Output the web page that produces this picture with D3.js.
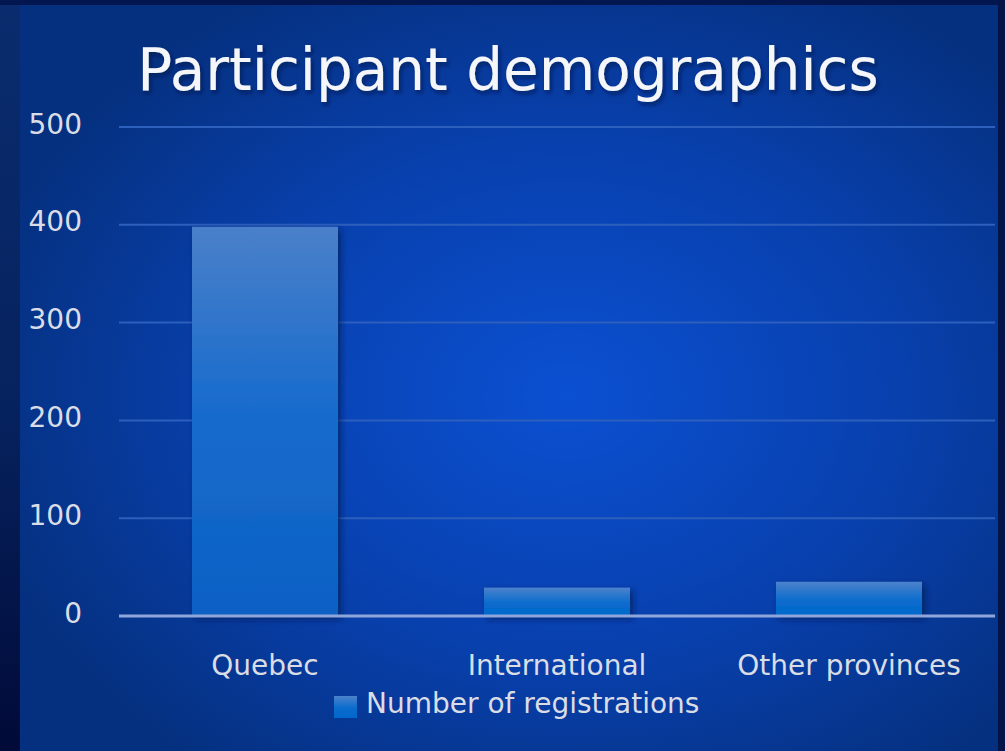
<!DOCTYPE html>
<html>
<head>
<meta charset="utf-8">
<script src="https://cdn.jsdelivr.net/npm/d3@7"></script>
<style>
  html, body { margin: 0; padding: 0; background: #021040; overflow: hidden; }
  svg { display: block; font-family: "DejaVu Sans", Verdana, sans-serif; }
</style>
</head>
<body>
<div id="chart"></div>
<script>
const categories = ['Quebec', 'International', 'Other provinces'];
const registrations = [398, 29, 35];
const yTicks = [0, 100, 200, 300, 400, 500];
const seriesName = 'Number of registrations';
const title = 'Participant demographics';

function barChart() {
    let width = 1005,
        height = 751,
        margin = { top: 127, left: 119, right: 10, bottom: 135 };

    function chart(selector) {
        let svg = d3.select(selector)
            .append('svg')
            .attr('width', width)
            .attr('height', height);

        let defs = svg.append('defs');

        // outer backdrop (left strip glows at top, dark at bottom)
        let outer = defs.append('linearGradient').attr('id', 'outer')
            .attr('x1', 0).attr('x2', 0).attr('y1', 0).attr('y2', 1);
        outer.append('stop').attr('offset', '0%').attr('stop-color', '#0a2c6e');
        outer.append('stop').attr('offset', '55%').attr('stop-color', '#06225e');
        outer.append('stop').attr('offset', '100%').attr('stop-color', '#010a38');

        // panel glow
        let panel = defs.append('radialGradient').attr('id', 'panel')
            .attr('cx', '56%').attr('cy', '52%').attr('r', '62%');
        panel.append('stop').attr('offset', '0%').attr('stop-color', '#0b50d2');
        panel.append('stop').attr('offset', '55%').attr('stop-color', '#0840ad');
        panel.append('stop').attr('offset', '100%').attr('stop-color', '#05307f');

        // bar fill
        let barGrad = defs.append('linearGradient').attr('id', 'bar')
            .attr('x1', 0).attr('x2', 0).attr('y1', 0).attr('y2', 1);
        barGrad.append('stop').attr('offset', '0%').attr('stop-color', '#4a80c9');
        barGrad.append('stop').attr('offset', '45%').attr('stop-color', '#1a6ccd');
        barGrad.append('stop').attr('offset', '100%').attr('stop-color', '#0a60c4');

        let smallGrad = defs.append('linearGradient').attr('id', 'barSmall')
            .attr('x1', 0).attr('x2', 0).attr('y1', 0).attr('y2', 1);
        smallGrad.append('stop').attr('offset', '0%').attr('stop-color', '#4c82cc');
        smallGrad.append('stop').attr('offset', '55%').attr('stop-color', '#0a6ccd');
        smallGrad.append('stop').attr('offset', '100%').attr('stop-color', '#0068cc');

        let shadow = defs.append('filter').attr('id', 'shadow')
            .attr('x', '-20%').attr('y', '-20%').attr('width', '150%').attr('height', '150%');
        shadow.append('feDropShadow').attr('dx', 3).attr('dy', 3)
            .attr('stdDeviation', 3).attr('flood-color', '#001a55').attr('flood-opacity', 0.7);

        let textShadow = defs.append('filter').attr('id', 'tshadow')
            .attr('x', '-5%').attr('y', '-20%').attr('width', '110%').attr('height', '150%');
        textShadow.append('feDropShadow').attr('dx', 2).attr('dy', 3)
            .attr('stdDeviation', 2).attr('flood-color', '#001040').attr('flood-opacity', 0.6);

        svg.append('rect').attr('width', width).attr('height', height).attr('fill', 'url(#outer)');
        svg.append('rect').attr('width', width).attr('height', 5).attr('fill', '#03164f');
        svg.append('rect')
            .attr('x', 998).attr('width', 7).attr('height', height).attr('fill', '#031548');
        svg.append('rect')
            .attr('x', 20).attr('y', 5)
            .attr('width', 978).attr('height', height)
            .attr('fill', 'url(#panel)');

        // scales
        let x = d3.scaleBand()
            .domain(categories)
            .range([margin.left, width - margin.right])
            .paddingInner(0.5)
            .paddingOuter(0.25);

        let y = d3.scaleLinear()
            .domain([0, 500])
            .range([height - margin.bottom, margin.top]);

        // gridlines
        svg.append('g')
            .selectAll('line')
            .data(yTicks.slice(1))
            .enter().append('line')
            .attr('x1', margin.left)
            .attr('x2', 995)
            .attr('y1', d => y(d))
            .attr('y2', d => y(d))
            .attr('stroke', '#2d5fbd')
            .attr('stroke-width', 2);

        // y tick labels
        svg.append('g')
            .selectAll('text')
            .data(yTicks)
            .enter().append('text')
            .attr('x', 82)
            .attr('y', d => y(d) + 6.5)
            .attr('text-anchor', 'end')
            .attr('fill', '#dadde6')
            .style('font-size', '28px')
            .text(d => d);

        // bars
        svg.append('g')
            .selectAll('rect')
            .data(registrations)
            .enter().append('rect')
            .attr('x', (d, i) => x(categories[i]))
            .attr('y', d => y(d))
            .attr('width', x.bandwidth())
            .attr('height', d => y(0) - y(d))
            .attr('fill', d => d > 100 ? 'url(#bar)' : 'url(#barSmall)')
            .attr('filter', 'url(#shadow)');

        // baseline
        svg.append('line')
            .attr('x1', margin.left)
            .attr('x2', 995)
            .attr('y1', y(0))
            .attr('y2', y(0))
            .attr('stroke', '#8ea6d9')
            .attr('stroke-width', 3);

        // category labels
        svg.append('g')
            .selectAll('text')
            .data(categories)
            .enter().append('text')
            .attr('x', d => x(d) + x.bandwidth() / 2)
            .attr('y', 675)
            .attr('text-anchor', 'middle')
            .attr('fill', '#dadde6')
            .style('font-size', '28px')
            .text(d => d);

        // legend
        svg.append('rect')
            .attr('x', 334).attr('y', 696)
            .attr('width', 23).attr('height', 22)
            .attr('fill', 'url(#barSmall)');
        svg.append('text')
            .attr('x', 366)
            .attr('y', 713)
            .attr('fill', '#dadde6')
            .style('font-size', '28px')
            .text(seriesName);

        // title
        svg.append('text')
            .attr('x', 508)
            .attr('y', 90)
            .attr('text-anchor', 'middle')
            .attr('fill', '#f4f6fa')
            .attr('filter', 'url(#tshadow)')
            .style('font-size', '58px')
            .text(title);

        return chart;
    }

    return chart;
}

barChart()('#chart');
</script>
</body>
</html>
